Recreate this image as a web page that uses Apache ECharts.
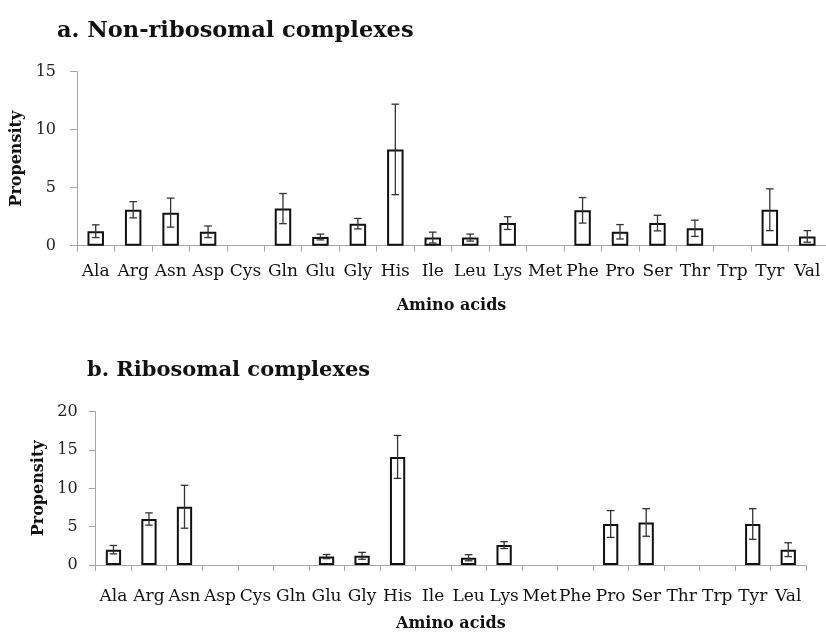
<!DOCTYPE html>
<html>
<head>
<meta charset="utf-8">
<script src="https://cdn.jsdelivr.net/npm/echarts@6/dist/echarts.min.js"></script>
<style>
  html, body { margin: 0; padding: 0; background: #fff; }
  #chart { width: 826px; height: 633px; }
</style>
</head>
<body>
<div id="chart"></div>
<script>
// Amino acid propensities with standard-error bars
const aminoAcids = ['Ala','Arg','Asn','Asp','Cys','Gln','Glu','Gly','His','Ile',
                    'Leu','Lys','Met','Phe','Pro','Ser','Thr','Trp','Tyr','Val'];

// a. Non-ribosomal complexes
const nonRiboValues = [1.25, 3.1, 2.85, 1.2, 0, 3.2, 0.75, 1.9, 8.3, 0.7,
                       0.7, 1.95, 0, 3.05, 1.2, 1.95, 1.5, 0, 3.1, 0.8];
const nonRiboErrors = [0.55, 0.7, 1.25, 0.5, 0, 1.3, 0.25, 0.45, 3.9, 0.47,
                       0.3, 0.55, 0, 1.1, 0.62, 0.67, 0.7, 0, 1.8, 0.5];

// b. Ribosomal complexes
const riboValues = [2.0, 6.0, 7.6, 0, 0, 0, 1.1, 1.2, 14.1, 0,
                    0.95, 2.6, 0, 0, 5.35, 5.55, 0, 0, 5.35, 2.0];
const riboErrors = [0.55, 0.8, 2.8, 0, 0, 0, 0.27, 0.45, 2.8, 0,
                    0.4, 0.45, 0, 0, 1.75, 1.8, 0, 0, 2.0, 0.9];

const yTicksTop = { min: 0, max: 15, interval: 5 };
const yTicksBottom = { min: 0, max: 20, interval: 5 };

const serif = '"DejaVu Serif", serif';
const axisGray = '#a6a6a6';

// zero propensity means no bar at all
function barData(values) {
  return values.map(v => (v === 0 ? null : v));
}
function errData(values, errors) {
  return values.map((v, i) => [i, v - errors[i], v + errors[i], errors[i]]);
}

function renderError(params, api) {
  if (api.value(3) === 0) return null;
  const idx = api.value(0);
  const lo = api.coord([idx, api.value(1)]);
  const hi = api.coord([idx, api.value(2)]);
  const half = 3.8;
  const style = { stroke: '#333333', lineWidth: 1.3 };
  return {
    type: 'group',
    children: [
      { type: 'line', shape: { x1: hi[0], y1: hi[1], x2: lo[0], y2: lo[1] }, style },
      { type: 'line', shape: { x1: hi[0] - half, y1: hi[1], x2: hi[0] + half, y2: hi[1] }, style },
      { type: 'line', shape: { x1: lo[0] - half, y1: lo[1], x2: lo[0] + half, y2: lo[1] }, style }
    ]
  };
}

function xAxisCfg(gridIndex, labelMargin, nameGap) {
  return {
    type: 'category',
    gridIndex,
    data: aminoAcids,
    boundaryGap: true,
    name: 'Amino acids',
    nameLocation: 'middle',
    nameGap,
    nameTextStyle: { fontFamily: serif, fontWeight: 'bold', fontSize: 16, color: '#111' },
    axisLine: { lineStyle: { color: axisGray, width: 1 } },
    axisTick: { show: true, length: 6, alignWithLabel: false, lineStyle: { color: axisGray } },
    axisLabel: { fontFamily: serif, fontSize: 17, color: '#111', margin: labelMargin, interval: 0 },
    splitLine: { show: false }
  };
}

function yAxisCfg(gridIndex, ticks, nameGap, labelMargin) {
  return {
    type: 'value',
    gridIndex,
    min: ticks.min,
    max: ticks.max,
    interval: ticks.interval,
    name: 'Propensity',
    nameLocation: 'middle',
    nameRotate: 90,
    nameGap,
    nameTextStyle: { fontFamily: serif, fontWeight: 'bold', fontSize: 16, color: '#111' },
    axisLine: { show: true, lineStyle: { color: axisGray, width: 1 } },
    axisTick: { show: true, length: 7, lineStyle: { color: axisGray } },
    axisLabel: { fontFamily: serif, fontSize: 16, color: '#222', margin: labelMargin },
    splitLine: { show: false }
  };
}

const barStyle = { color: '#ffffff', borderColor: '#111', borderWidth: 2 };

const chart = echarts.init(document.getElementById('chart'), null, { renderer: 'canvas' });
chart.setOption({
  animation: false,
  backgroundColor: '#ffffff',
  title: [
    { text: 'a. Non-ribosomal complexes', left: 52, top: 15,
      textStyle: { fontFamily: serif, fontWeight: 'bold', fontSize: 22.5, color: '#111' } },
    { text: 'b. Ribosomal complexes', left: 82, top: 355,
      textStyle: { fontFamily: serif, fontWeight: 'bold', fontSize: 21, color: '#111' } }
  ],
  grid: [
    { left: 77, top: 71.7, width: 753, height: 174 },
    { left: 95.7, top: 411.7, width: 710.3, height: 158.3 }
  ],
  xAxis: [xAxisCfg(0, 17, 52), xAxisCfg(1, 23, 51)],
  yAxis: [yAxisCfg(0, yTicksTop, 48, 21), yAxisCfg(1, yTicksBottom, 45, 18)],
  series: [
    { type: 'bar', xAxisIndex: 0, yAxisIndex: 0, data: barData(nonRiboValues),
      barWidth: '44%', itemStyle: barStyle, silent: true },
    { type: 'custom', xAxisIndex: 0, yAxisIndex: 0, data: errData(nonRiboValues, nonRiboErrors),
      renderItem: renderError, encode: { x: 0, y: [1, 2] }, z: 5, silent: true },
    { type: 'bar', xAxisIndex: 1, yAxisIndex: 1, data: barData(riboValues),
      barWidth: '43%', itemStyle: barStyle, silent: true },
    { type: 'custom', xAxisIndex: 1, yAxisIndex: 1, data: errData(riboValues, riboErrors),
      renderItem: renderError, encode: { x: 0, y: [1, 2] }, z: 5, silent: true }
  ]
});
</script>
</body>
</html>
